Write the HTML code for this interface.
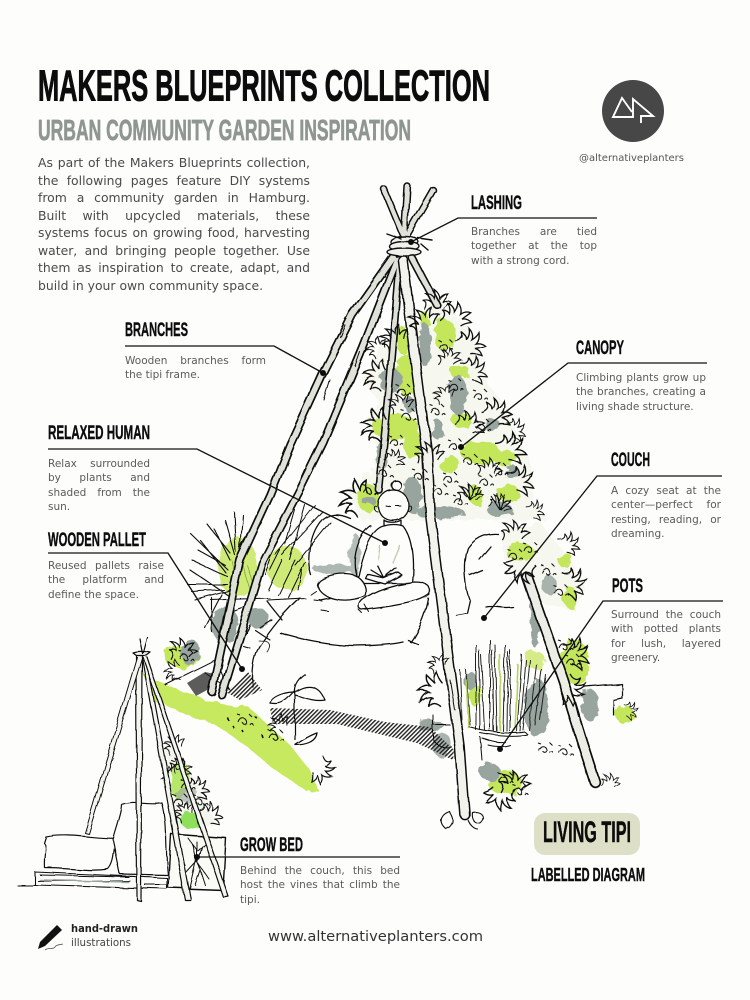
<!DOCTYPE html>
<html><head><meta charset="utf-8"><style>
html,body{margin:0;padding:0;background:#fdfdfb}
#p{position:relative;width:750px;height:1000px;overflow:hidden;background:#fdfdfb}
svg{position:absolute;left:0;top:0}
.b{position:absolute;margin:0;font-family:"DejaVu Sans","Liberation Sans",sans-serif;color:#5a5a5a;font-size:10.5px;line-height:14.4px}
.b span{display:block;white-space:nowrap;text-align:justify;text-align-last:justify}
.b span.l{text-align:left;text-align-last:left}
.i{font-size:12.4px;line-height:17.55px;color:#4a4a4a}
.h{font-family:"Liberation Sans",sans-serif;font-weight:bold;fill:#0c0c0c;stroke:#0c0c0c;stroke-width:.4}
</style></head><body><div id="p">
<svg width="750" height="1000" viewBox="0 0 750 1000" xmlns="http://www.w3.org/2000/svg">
<defs>
<filter id="r" x="-10%" y="-10%" width="120%" height="120%"><feTurbulence type="fractalNoise" baseFrequency="0.09" numOctaves="3" seed="4"/><feDisplacementMap in="SourceGraphic" scale="9"/></filter>
<filter id="w" filterUnits="userSpaceOnUse" x="0" y="0" width="750" height="1000"><feTurbulence type="fractalNoise" baseFrequency="0.04" numOctaves="2" seed="7"/><feDisplacementMap in="SourceGraphic" scale="4"/></filter>
<pattern id="hat" width="3" height="3" patternUnits="userSpaceOnUse" patternTransform="rotate(-45)"><rect width="3" height="1.4" fill="#222"/></pattern>
<path id="t" d="M-14 8C-10 2-12-2-16-3C-11-4-8-3-7-1C-7-6-10-9-13-11C-8-11-4-8-3-5C-2-9-2-12-3-15C1-12 3-9 3-5C5-8 8-10 12-10C10-7 8-4 6-1C9-3 12-3 16-1C12 1 9 3 7 6" fill="none" stroke="#111" stroke-width="1.3"/>
<path id="s" d="M-6 3c2-6 7-5 8-1c1 3-3 4-4 1M4-6l3 3M-7-5l3 1M5 5c1-2 3-2 3 0" fill="none" stroke="#111" stroke-width="1"/>
<path id="k" d="M0 0L-9-14M0 0L-3-17M0 0L5-15M0 0L11-10" fill="none" stroke="#111" stroke-width="1.1"/>
</defs>

<!-- CANOPY FILL -->
<g filter="url(#r)">
<path d="M437 295L467 327L483 360L487 383L510 410L513 427L530 460L533 500L547 520L360 520L347 490L373 470L380 453L363 420L380 403L363 380L380 347L403 327L423 317Z" fill="#f6f8ef"/>
<g fill="#c3e65a">
<ellipse cx="445" cy="335" rx="11" ry="16"/><ellipse cx="460" cy="372" rx="10" ry="7"/><ellipse cx="407" cy="375" rx="9" ry="22"/><ellipse cx="402" cy="340" rx="6" ry="14"/><ellipse cx="395" cy="427" rx="24" ry="12"/><ellipse cx="413" cy="445" rx="9" ry="15"/><ellipse cx="480" cy="452" rx="20" ry="11"/><ellipse cx="505" cy="458" rx="12" ry="8"/><ellipse cx="508" cy="493" rx="11" ry="9"/><ellipse cx="450" cy="465" rx="10" ry="9"/><ellipse cx="368" cy="498" rx="11" ry="14"/><ellipse cx="462" cy="420" rx="11" ry="7"/><ellipse cx="475" cy="495" rx="7" ry="9"/><ellipse cx="425" cy="320" rx="5" ry="8"/>
</g>
<g fill="#98a59f">
<ellipse cx="425" cy="345" rx="6" ry="22"/><ellipse cx="390" cy="380" rx="12" ry="12"/><ellipse cx="458" cy="395" rx="9" ry="20"/><ellipse cx="410" cy="405" rx="6" ry="8"/><ellipse cx="412" cy="495" rx="10" ry="18"/><ellipse cx="492" cy="425" rx="8" ry="7"/><ellipse cx="512" cy="472" rx="6" ry="7"/><ellipse cx="438" cy="430" rx="6" ry="10"/><ellipse cx="440" cy="512" rx="24" ry="7"/><ellipse cx="500" cy="510" rx="13" ry="7"/><ellipse cx="382" cy="455" rx="5" ry="14"/><ellipse cx="368" cy="500" rx="7" ry="5"/>
</g>
<path d="M500 530L540 522L570 560L585 590L575 610L545 605L520 575L505 560Z" fill="#f6f8ef"/>
<ellipse cx="520" cy="552" rx="14" ry="9" fill="#c3e65a"/><ellipse cx="565" cy="560" rx="8" ry="7" fill="#c3e65a"/><ellipse cx="570" cy="597" rx="7" ry="11" fill="#c3e65a"/><ellipse cx="549" cy="585" rx="8" ry="9" fill="#a8b3ad"/>
<ellipse cx="575" cy="662" rx="14" ry="22" fill="#c3e65a"/>
<ellipse cx="535" cy="620" rx="5" ry="28" fill="#98a59f"/>
<ellipse cx="537" cy="708" rx="12" ry="30" fill="#98a59f"/>
<ellipse cx="590" cy="705" rx="9" ry="16" fill="#98a59f"/>
<ellipse cx="625" cy="715" rx="9" ry="9" fill="#c3e65a"/>
<ellipse cx="535" cy="660" rx="10" ry="9" fill="#d4eb86"/>
<ellipse cx="238" cy="568" rx="20" ry="30" fill="#cfea76"/><ellipse cx="287" cy="568" rx="20" ry="22" fill="#cfea76"/>
<ellipse cx="225" cy="625" rx="14" ry="18" fill="#98a59f"/><ellipse cx="258" cy="618" rx="10" ry="10" fill="#98a59f"/>
<ellipse cx="182" cy="657" rx="18" ry="11" fill="#c3e65a"/><ellipse cx="190" cy="652" rx="10" ry="13" fill="#98a59f"/>
<path d="M150 678L180 690L212 702L250 708L268 725L290 745L310 770L320 792L305 790L275 770L245 745L215 725L170 708L152 695Z" fill="#c6e95e"/>
<ellipse cx="335" cy="569" rx="22" ry="5" fill="#aeb8b2"/><ellipse cx="355" cy="555" rx="6" ry="22" fill="#b5bdb8"/>
<ellipse cx="430" cy="725" rx="14" ry="5" fill="#9aa5a0"/><ellipse cx="442" cy="745" rx="10" ry="12" fill="#aab3ae"/>
<ellipse cx="475" cy="695" rx="8" ry="10" fill="#c3e65a"/>
<ellipse cx="470" cy="680" rx="6" ry="9" fill="#98a59f"/>
<ellipse cx="505" cy="783" rx="17" ry="12" fill="#c3e65a"/><ellipse cx="490" cy="772" rx="11" ry="8" fill="#98a59f"/>
<path d="M167 735L190 770L217 825L180 830L165 780Z" fill="#f4f6ee"/>
<ellipse cx="180" cy="780" rx="10" ry="20" fill="#b6e76a"/><ellipse cx="190" cy="820" rx="9" ry="9" fill="#8ee05a"/><ellipse cx="187" cy="795" rx="11" ry="8" fill="#9aa5a0" opacity=".6"/>
<path d="M143 670L153 690L160 705L148 695Z" fill="#c3e65a"/>
</g>

<!-- HATCH -->
<path d="M270 708L330 710L385 722L430 727L454 750L453 760L417 743L337 724L273 724Z" fill="url(#hat)"/>
<path d="M187 683L196 696L207 690L220 675L205 672Z" fill="#333" opacity=".8"/>
<path d="M226 692L248 672L262 690L240 700Z" fill="url(#hat)"/>

<g filter="url(#w)">
<!-- COUCH -->
<g fill="none" stroke="#111" stroke-width="1.3" stroke-linecap="round" stroke-linejoin="round">
<path d="M253 687C251 665 255 650 264 640C272 628 285 612 300 598"/>
<path d="M311 575C306 560 310 535 320 522C328 512 338 513 350 518"/>
<path d="M280 633C295 637 320 645 353 646C375 646 395 644 403 642"/>
<path d="M410 642C420 628 426 610 428 598M408 640L418 644"/>
<path d="M358 580C350 560 358 535 371 526"/>
<path d="M456 615L467 613L470 600C466 590 462 565 468 548C475 538 485 533 498 534"/>
<path d="M486 607C495 605 500 609 513 607"/>
<path d="M491 547L480 560M470 575L482 570M250 625L246 632M267 601L282 620M320 600L335 597"/>
<circle cx="393" cy="505" r="15.5" fill="#fdfdfb"/><circle cx="396" cy="485" r="4.8" fill="#fdfdfb"/>
<path d="M376 506c-3-2-3 5 1 5M409 506c3-2 3 5-1 5M386 506l5 1M396 506l5 0" stroke-width="1"/>
<path d="M384 520c3 3 13 3 17 0v5c-4 2-14 2-17 0z" fill="#fdfdfb"/>
<path d="M384 526C372 528 364 548 358 576C358 580 360 583 365 583L412 583C414 565 414 540 403 526C398 524 390 524 384 526Z" fill="#fdfdfb"/>
<path d="M317 585C318 577 338 572 350 574C362 576 368 587 365 596C345 604 322 600 317 585Z" fill="#fdfdfb"/>
<path d="M362 600C375 590 395 584 415 582C428 582 432 588 429 594C420 602 395 606 362 610C358 609 358 604 362 600Z" fill="#fdfdfb"/>
<path d="M365 578L385 584L402 575L398 572L384 578L367 574ZM371 570L384 578M396 568L384 578M378 566L384 578" fill="#fdfdfb"/>
<path d="M380 546l-2 14M400 546l-7 17" stroke="#c2c9a8"/>
<path d="M314 600l8 1M310 595l6-4M321 610l7 1M359 610l3 3M365 605l4 7"  stroke-width="1"/>
<path d="M258 640C270 640 272 645 267 652" stroke-width=".8"/>
</g>

<!-- GRASS LEFT -->
<g fill="none" stroke="#111" stroke-width="1.1" stroke-linecap="round">
<path d="M228 585L188 585M228 577L192 560M228 570L190 533M230 560L215 530M235 555L225 520M240 550L243 515M245 550L262 523M232 590L195 600M222 595L205 628M235 600L190 570M225 565L198 550M240 548L262 510M226 573L200 540M224 590L192 592M230 553L208 525M236 552L234 512"/>
<path d="M290 560L305 505M295 565L330 522M275 555L315 505M285 545L295 510M268 590L282 560M278 595L295 560M288 597L305 562M282 555L322 512M270 570L280 550M298 590L302 570" stroke-width="1"/>
<path d="M232 560L238 590M240 555L250 590M247 565L255 590" stroke="#7fa840" stroke-width=".8"/>
<path d="M212 598V632M211 600L270 598M305 598L268 600M272 620L260 628M250 605L232 612M243 646L250 648M270 640L255 630"/>
</g>
<g transform="translate(183 652)"><use href="#t" transform="scale(.9)"/><use href="#s" x="3" y="4"/></g>
<use href="#t" transform="translate(175 670) rotate(-90) scale(.7)"/>
<path d="M205 673L230 690L215 660L165 685" fill="none" stroke="#111" stroke-width="1"/>

<!-- BRANCHES -->
<g fill="none" stroke-linecap="round" stroke-linejoin="round">
<g stroke="#111" stroke-width="8.8">
<path d="M384 189L403 235M407 186L404 235M433 190L407 235" stroke-width="7.4"/>
<path d="M397 260L363 347L323 443L300 490L262 563L222 695"/>
<path d="M393 257L352 315L323 373L290 445L270 495L240 560L212 692"/>
<path d="M400 258L388 400L379 490" stroke-width="7.8"/>
<path d="M412 258L437 305" stroke-width="8.2"/>
<path d="M527 577L563 680L580 735L595 782" stroke-width="11.4"/>
</g>
<g stroke="#dfe2d8" stroke-width="5.4">
<path d="M384 189L403 235M407 186L404 235M433 190L407 235" stroke-width="4.4"/>
<path d="M397 260L363 347L323 443L300 490L262 563L222 695"/>
<path d="M393 257L352 315L323 373L290 445L270 495L240 560L212 692"/>
<path d="M400 258L388 400L379 490" stroke-width="4.6"/>
<path d="M412 258L437 305" stroke-width="5"/>
<path d="M527 577L563 680L580 735L595 782" stroke-width="8" stroke="#eceee5"/>
</g>
<path d="M403 260L413 343L427 453L430 513L447 647L460 747L465 815" stroke="#111" stroke-width="10.8"/>
<path d="M403 260L413 343L427 453L430 513L447 647L460 747L465 815" stroke="#f2f3ec" stroke-width="7.8"/>
<path d="M330 380l-6 20M270 560l-5 14M305 470l-7 16M450 680l5 30M345 325l-5 12M360 352l-5 14M574 700l4 16" stroke="#111" stroke-width="1" fill="none"/>
</g>
<g fill="#f0f1ea" stroke="#111" stroke-width="1.4" stroke-linecap="round">
<ellipse cx="404" cy="241" rx="14" ry="5"/><ellipse cx="404" cy="246" rx="15" ry="5"/><ellipse cx="404" cy="252" rx="17" ry="4"/>
<path d="M386 233L400 238M418 238L432 240M421 244L428 250" fill="none"/>
</g>

<!-- CANOPY LINEWORK -->
<g>
<use href="#t" transform="translate(437 303) scale(.9)"/><use href="#t" transform="translate(456 318) rotate(20)"/><use href="#t" transform="translate(470 345) rotate(45)"/><use href="#t" transform="translate(474 372) rotate(60) scale(.9)"/><use href="#t" transform="translate(497 415) rotate(40)"/><use href="#t" transform="translate(510 450) rotate(55) scale(1.1)"/><use href="#t" transform="translate(520 482) rotate(65)"/><use href="#t" transform="translate(425 322) rotate(-25)"/><use href="#t" transform="translate(395 338) rotate(-35) scale(.9)"/><use href="#t" transform="translate(378 375) rotate(-70)"/><use href="#t" transform="translate(378 425) rotate(-70) scale(1.1)"/><use href="#t" transform="translate(358 498) rotate(-60) scale(1.2)"/><use href="#t" transform="translate(450 360) rotate(10) scale(.8)"/><use href="#t" transform="translate(430 455) rotate(-10) scale(.9)"/><use href="#t" transform="translate(470 425) rotate(30) scale(.9)"/><use href="#t" transform="translate(490 470) rotate(10) scale(.8)"/><use href="#t" transform="translate(470 495) scale(.8)"/><use href="#t" transform="translate(500 505) rotate(20) scale(.7)"/><use href="#t" transform="translate(402 405) rotate(-20) scale(.8)"/><use href="#t" transform="translate(395 460) rotate(30) scale(.7)"/><use href="#t" transform="translate(445 395) rotate(-30) scale(.7)"/><use href="#t" transform="translate(378 348) rotate(-50) scale(.7)"/><use href="#t" transform="translate(515 430) rotate(70) scale(.7)"/><use href="#t" transform="translate(535 512) rotate(60) scale(.7)"/>
<use href="#s" x="455" y="385"/><use href="#s" x="445" y="345"/><use href="#s" x="408" y="415"/><use href="#s" x="395" y="440"/><use href="#s" x="482" y="425"/><use href="#s" x="455" y="445"/><use href="#s" x="485" y="480"/><use href="#s" x="450" y="478"/><use href="#s" x="460" y="500"/><use href="#s" x="385" y="472"/><use href="#s" x="420" y="475"/><use href="#s" x="370" y="490"/><use href="#s" x="480" y="395"/><use href="#s" x="403" y="390"/><use href="#s" x="470" y="460"/><use href="#s" x="437" y="410"/><use href="#s" x="500" y="470"/><use href="#s" x="440" y="490"/>
<use href="#k" x="470" y="500"/><use href="#k" x="500" y="510"/>
<use href="#t" transform="translate(515 533) scale(.9)"/><use href="#t" transform="translate(568 545) rotate(60) scale(.8)"/><use href="#t" transform="translate(520 568) rotate(200)"/><use href="#t" transform="translate(572 585) rotate(80)"/><use href="#s" x="530" y="548"/><use href="#s" x="548" y="570"/><use href="#s" x="560" y="590"/><use href="#s" x="515" y="555"/>
<use href="#t" transform="translate(575 655) rotate(70)"/><use href="#t" transform="translate(570 690) rotate(120)"/><use href="#s" x="572" y="660"/><use href="#s" x="565" y="645"/>
<path d="M585 687L622 684L622 698L613 700V715" fill="none" stroke="#111" stroke-width="1.2"/>
<use href="#t" transform="translate(630 712) rotate(80) scale(.6)"/>
<use href="#t" transform="translate(435 690) rotate(-80) scale(1.1)"/><use href="#t" transform="translate(440 665) rotate(-30) scale(.7)"/>
<use href="#t" transform="translate(515 785)"/><use href="#t" transform="translate(500 795) rotate(190)"/><use href="#s" x="505" y="778"/><use href="#s" x="520" y="790"/><use href="#s" x="545" y="748"/><use href="#s" x="565" y="750"/>
<use href="#t" transform="translate(610 782) rotate(10) scale(.6)"/>
<path d="M450 812c-8 3-12 10-4 17c5-2 8-7 6-12zM472 812c8-2 14 4 8 10c-5 3-9-3-8-10zM468 820c2 5 6 9 10 9" fill="none" stroke="#111" stroke-width="1.1"/>
<path d="M295 740V695C293 688 296 680 305 674M295 690C285 702 280 705 270 703C272 696 285 692 295 692C305 685 318 683 325 700C316 702 305 698 295 695M295 745C303 740 310 735 317 733C316 742 305 745 295 745" fill="none" stroke="#111" stroke-width="1.2"/>
<use href="#t" transform="translate(320 770) rotate(130) scale(.9)"/><use href="#t" transform="translate(280 725) rotate(-40) scale(.7)"/><use href="#s" x="245" y="720"/><use href="#s" x="275" y="735"/>
<path d="M228 718l1 3M233 726l1 2M242 730l1 2M255 716l1 2M262 735l1 3" stroke="#111" stroke-width="1.6"/>
</g>

<!-- POT & grass -->
<g fill="none" stroke="#111" stroke-width="1" stroke-linecap="round">
<path d="M476 730L476 645M480 730L479 650M485 730L481 655M490 730L490 640M494 731L492 650M497 731L495 645M503 731L505 645M507 731L508 652M510 731L510 650M517 731L522 655M520 731L526 660M523 730L530 660M529 730L537 665M535 725L542 670M540 720L546 675M470 725L466 670M462 720L460 670" stroke="#222"/>
<path d="M469 728L466 680M500 730L500 655M515 730L518 665" stroke="#b4d35a" stroke-width="1.6"/>
<path d="M469 727C495 735 520 733 525 732L528 735C518 737 500 737 480 733M482 738C490 741 500 744 505 742M488 745C495 747 505 747 510 745M480 737L482 760"/>
<path d="M433 715L433 740C440 748 445 748 452 747M433 725L450 725"/>
</g>

<!-- SMALL TIPI -->
<g fill="none" stroke="#111" stroke-linejoin="round" stroke-linecap="round">
<use href="#t" transform="translate(180 770) rotate(25) scale(.8)"/><use href="#t" transform="translate(175 745) rotate(-30) scale(.7)"/><use href="#t" transform="translate(198 790) rotate(50) scale(.8)"/><use href="#t" transform="translate(210 815) rotate(50) scale(.8)"/><use href="#t" transform="translate(170 775) rotate(-60) scale(.6)"/><use href="#t" transform="translate(185 812) rotate(-40) scale(.7)"/><use href="#s" x="178" y="765"/><use href="#s" x="188" y="785"/><use href="#s" x="180" y="800"/><use href="#s" x="200" y="800"/>
<path d="M46 837C70 832 100 840 118 838C112 845 116 860 108 869C90 872 70 868 45 868C44 855 48 847 44 843Z" fill="#fdfdfb" stroke-width="1.2"/>
<path d="M113 840C117 825 122 812 122 805C135 800 150 806 162 803C168 825 165 850 168 875L120 874Z" fill="#fdfdfb" stroke-width="1.2"/>
<path d="M35 872L167 878L167 889L35 885ZM35 872V885M40 875L128 877M17 885H35M38 881H130M145 885H167" stroke-width="1.1" fill="#fdfdfb"/>
<path d="M40 880L128 882" stroke="#9aa5a0" stroke-width="1.6"/>
<path d="M171 834L226 838L223 890L168 888Z" fill="#fbfbf6" stroke-width="1.4"/>
<path d="M197 842V862M197 850L188 838M197 862L185 875M197 862L208 878M197 858L190 888M197 860L205 885M197 852L207 842M186 865L180 870M200 870L195 885M193 845L196 860M202 847L198 862" stroke-width="1"/>
<path d="M136 652L137 900L141 901L142 655L140 655" fill="#f5f5ef" stroke-width="1.2"/>
<path d="M137 657L85 833L89 834L142 658" fill="#f5f5ef" stroke-width="1"/>
<path d="M142 657L185 900L191 900L146 657" fill="#f5f5ef" stroke-width="1.2"/>
<path d="M143 657L223 897L228 896L147 657" fill="#f5f5ef" stroke-width="1.2"/>
<path d="M139 638L142 653M147 637L143 652M132 652C138 650 146 651 150 652L146 655H136Z" fill="#f5f5ef" stroke-width="1.2"/>
</g>
</g>

<!-- LEADERS -->
<g fill="none" stroke="#111" stroke-width="1.35">
<path d="M597 218H458L411 242"/><path d="M707 363H568L461 447"/><path d="M722 476H597L484 618"/><path d="M723 601H603L500 749"/>
<path d="M125 346H274L323 373"/><path d="M48 449H197L385 543"/><path d="M48 553H168L242 669"/><path d="M197 857H400"/>
</g>
<g fill="#0c0c0c"><circle cx="411" cy="242" r="3"/><circle cx="323" cy="373" r="3"/><circle cx="461" cy="447" r="3"/><circle cx="484" cy="618" r="3"/><circle cx="500" cy="749" r="3"/><circle cx="385" cy="543" r="3"/><circle cx="242" cy="669" r="3"/><circle cx="197" cy="857" r="3"/></g>

<!-- TITLES -->
<text class="h" x="38" y="100.5" font-size="44" textLength="452" lengthAdjust="spacingAndGlyphs" style="stroke-width:.9">MAKERS BLUEPRINTS COLLECTION</text>
<text class="h" x="38" y="140" font-size="29" textLength="373" lengthAdjust="spacingAndGlyphs" style="fill:#8f9690;stroke:#8f9690;stroke-width:.7">URBAN COMMUNITY GARDEN INSPIRATION</text>
<text class="h" x="471" y="209" font-size="19" textLength="51" lengthAdjust="spacingAndGlyphs">LASHING</text>
<text class="h" x="125" y="336" font-size="19" textLength="63" lengthAdjust="spacingAndGlyphs">BRANCHES</text>
<text class="h" x="576" y="354" font-size="19" textLength="48" lengthAdjust="spacingAndGlyphs">CANOPY</text>
<text class="h" x="48" y="439" font-size="19" textLength="102" lengthAdjust="spacingAndGlyphs">RELAXED HUMAN</text>
<text class="h" x="611" y="466" font-size="19" textLength="39" lengthAdjust="spacingAndGlyphs">COUCH</text>
<text class="h" x="48" y="546" font-size="19" textLength="98" lengthAdjust="spacingAndGlyphs">WOODEN PALLET</text>
<text class="h" x="612" y="592" font-size="19" textLength="31" lengthAdjust="spacingAndGlyphs">POTS</text>
<text class="h" x="240" y="851" font-size="19" textLength="63" lengthAdjust="spacingAndGlyphs">GROW BED</text>

<!-- LOGO -->
<circle cx="633" cy="111" r="31" fill="#474747"/>
<path d="M632 112L622 98L613 117H633V99L653 116H641V123" fill="none" stroke="#fff" stroke-width="1.9"/>
<text x="579" y="161" font-family="'DejaVu Sans',sans-serif" font-size="10" fill="#555" textLength="105" lengthAdjust="spacingAndGlyphs">@alternativeplanters</text>

<!-- LIVING TIPI -->
<rect x="534" y="813" width="106" height="42" rx="11" fill="#dde0c7"/>
<text class="h" x="543" y="842" font-size="30" textLength="88" lengthAdjust="spacingAndGlyphs" style="stroke-width:.5">LIVING TIPI</text>
<text class="h" x="531" y="881" font-size="18" textLength="114" lengthAdjust="spacingAndGlyphs">LABELLED DIAGRAM</text>

<!-- FOOTER -->
<path d="M57 925L62 930L45 946L38 949L40 942Z" fill="#111"/>
<path d="M45 950c3-3 8 0 10-3c1-2 3-2 8-3" fill="none" stroke="#555" stroke-width=".8"/>
<text x="71" y="932" font-family="'DejaVu Sans',sans-serif" font-size="11" font-weight="bold" fill="#222" textLength="67" lengthAdjust="spacingAndGlyphs">hand-drawn</text>
<text x="71" y="946" font-family="'DejaVu Sans',sans-serif" font-size="11" fill="#444" textLength="60" lengthAdjust="spacingAndGlyphs">illustrations</text>
<text x="268" y="941" font-family="'DejaVu Sans',sans-serif" font-size="14" fill="#333" textLength="215" lengthAdjust="spacingAndGlyphs">www.alternativeplanters.com</text>
</svg>

<p class="b i" style="left:38px;top:154px;width:272px">
<span>As part of the Makers Blueprints collection,</span><span>the following pages feature DIY systems</span><span>from a community garden in Hamburg.</span><span>Built with upcycled materials, these</span><span>systems focus on growing food, harvesting</span><span>water, and bringing people together. Use</span><span>them as inspiration to create, adapt, and</span><span class="l">build in your own community space.</span></p>
<p class="b" style="left:471px;top:225px;width:126px"><span>Branches are tied</span><span>together at the top</span><span class="l">with a strong cord.</span></p>
<p class="b" style="left:125px;top:354px;width:141px"><span>Wooden branches form</span><span class="l">the tipi frame.</span></p>
<p class="b" style="left:576px;top:371px;width:130px"><span>Climbing plants grow up</span><span>the branches, creating a</span><span class="l">living shade structure.</span></p>
<p class="b" style="left:48px;top:457px;width:102px"><span>Relax surrounded</span><span>by plants and</span><span>shaded from the</span><span class="l">sun.</span></p>
<p class="b" style="left:611px;top:484px;width:110px"><span>A cozy seat at the</span><span>center—perfect for</span><span>resting, reading, or</span><span class="l">dreaming.</span></p>
<p class="b" style="left:48px;top:559px;width:116px"><span>Reused pallets raise</span><span>the platform and</span><span class="l">define the space.</span></p>
<p class="b" style="left:611px;top:608px;width:110px"><span>Surround the couch</span><span>with potted plants</span><span>for lush, layered</span><span class="l">greenery.</span></p>
<p class="b" style="left:240px;top:864px;width:160px"><span>Behind the couch, this bed</span><span>host the vines that climb the</span><span class="l">tipi.</span></p>
</div></body></html>
